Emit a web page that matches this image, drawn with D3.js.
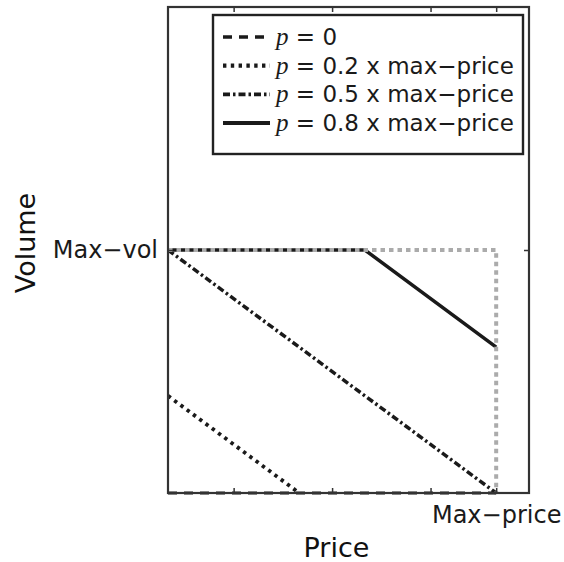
<!DOCTYPE html>
<html>
<head>
<meta charset="utf-8">
<script src="https://cdn.jsdelivr.net/npm/d3@7"></script>
<style>
  html, body { margin: 0; padding: 0; background: #fff; }
  svg { display: block; }
</style>
</head>
<body>
<svg id="chart" width="564" height="562"></svg>
<script>
// Price / volume response curves for several reserve prices p
const seriesNames = ["p = 0", "p = 0.2 x max−price", "p = 0.5 x max−price", "p = 0.8 x max−price"];
const pValues = ["0", "0.2 x max−price", "0.5 x max−price", "0.8 x max−price"];

// Each series as [price, volume] pairs (price and volume normalised to their max)
const curveP0  = [[0, 0], [1, 0]];
const curveP02 = [[0, 0.4], [0.4, 0]];
const curveP05 = [[0, 1], [1, 0]];
const curveP08 = [[0, 1], [0.6, 1], [1, 0.6]];
// Feasible region limit: max volume and max price
const boundary = [[0, 1], [1, 1], [1, 0]];

const xTickValues = [0.2, 0.5, 0.8, 1];
const xTickLabels = ["", "", "", "Max−price"];
const yTickValues = [1];
const yTickLabels = ["Max−vol"];

const svg = d3.select("#chart");
const plotLeft = 168, plotRight = 529, plotTop = 7, plotBottom = 493;

const x = d3.scaleLinear().domain([0, 1.1]).range([plotLeft, plotRight]);
const y = d3.scaleLinear().domain([0, 2]).range([plotBottom, plotTop]);

const line = d3.line().x(d => x(d[0])).y(d => y(d[1]));

const styles = {
  p0:  { color: "#1a1a1a", width: 3, dash: "9,7", cap: "butt" },
  p02: { color: "#1a1a1a", width: 3.8, dash: "3.4,4.4", cap: "butt" },
  p05: { color: "#1a1a1a", width: 3.5, dash: "7,3,2.5,3", cap: "butt" },
  p08: { color: "#1a1a1a", width: 3.5, dash: null, cap: "butt" }
};

function drawCurve(data, st) {
  const p = svg.append("path")
    .datum(data)
    .attr("d", line)
    .attr("fill", "none")
    .attr("stroke", st.color)
    .attr("stroke-width", st.width)
    .attr("stroke-linecap", st.cap);
  if (st.dash) p.attr("stroke-dasharray", st.dash);
  return p;
}

// Curves
drawCurve(curveP08, styles.p08);
drawCurve(curveP05, styles.p05);
drawCurve(curveP02, styles.p02);

// Boundary drawn in light grey dots over the curves
svg.append("path")
  .datum(boundary)
  .attr("d", line)
  .attr("fill", "none")
  .attr("stroke", "#ababab")
  .attr("stroke-width", 4)
  .attr("stroke-dasharray", "4.5,4");

drawCurve(curveP0, styles.p0);

// Axes: ticks point inward, labels only at the maxima
const axisFont = "'DejaVu Sans', sans-serif";

const gx = svg.append("g").attr("transform", `translate(0,${plotBottom})`)
  .call(d3.axisBottom(x).tickValues(xTickValues)
    .tickFormat((d, i) => xTickLabels[i])
    .tickSizeInner(-5).tickSizeOuter(0).tickPadding(13));
const gxTop = svg.append("g").attr("transform", `translate(0,${plotTop})`)
  .call(d3.axisTop(x).tickValues(xTickValues).tickFormat("")
    .tickSizeInner(-5).tickSizeOuter(0));
const gy = svg.append("g").attr("transform", `translate(${plotLeft},0)`)
  .call(d3.axisLeft(y).tickValues(yTickValues)
    .tickFormat((d, i) => yTickLabels[i])
    .tickSizeInner(-5).tickSizeOuter(0).tickPadding(10));
const gyRight = svg.append("g").attr("transform", `translate(${plotRight},0)`)
  .call(d3.axisRight(y).tickValues(yTickValues).tickFormat("")
    .tickSizeInner(-5).tickSizeOuter(0));

[gx, gxTop, gy, gyRight].forEach(g => {
  g.select(".domain").remove();
  g.selectAll(".tick line").attr("stroke", "#333").attr("stroke-width", 1.5);
  g.selectAll(".tick text")
    .attr("font-family", axisFont)
    .attr("font-size", 24)
    .attr("fill", "#1a1a1a");
});

// Frame
svg.append("rect")
  .attr("x", plotLeft).attr("y", plotTop)
  .attr("width", plotRight - plotLeft).attr("height", plotBottom - plotTop)
  .attr("fill", "none").attr("stroke", "#333").attr("stroke-width", 2.2);

// Axis titles
svg.append("text")
  .attr("x", (plotLeft + plotRight) / 2 - 12).attr("y", 557)
  .attr("text-anchor", "middle")
  .attr("font-family", axisFont).attr("font-size", 27).attr("fill", "#111")
  .text("Price");
svg.append("text")
  .attr("transform", `translate(35,243) rotate(-90)`)
  .attr("text-anchor", "middle")
  .attr("font-family", axisFont).attr("font-size", 27).attr("fill", "#111")
  .text("Volume");

// Legend
const legend = svg.append("g");
legend.append("rect")
  .attr("x", 213).attr("y", 15).attr("width", 310).attr("height", 139)
  .attr("fill", "#fff").attr("stroke", "#222").attr("stroke-width", 2.4);

const legendItems = [
  { style: styles.p0,  text: pValues[0] },
  { style: styles.p02, text: pValues[1] },
  { style: styles.p05, text: pValues[2] },
  { style: styles.p08, text: pValues[3] }
];
const rowY = d3.scalePoint().domain(d3.range(legendItems.length)).range([37, 123]);

legendItems.forEach((item, i) => {
  const cy = rowY(i);
  const st = item.style;
  const ln = legend.append("line")
    .attr("x1", 223).attr("x2", 270).attr("y1", cy).attr("y2", cy)
    .attr("stroke", st.color).attr("stroke-width", st.width + 0.4);
  if (st.dash) ln.attr("stroke-dasharray", st.dash);
  const t = legend.append("text")
    .attr("x", 276).attr("y", cy + 8)
    .attr("font-family", axisFont).attr("font-size", 23).attr("fill", "#1a1a1a");
  t.append("tspan")
    .attr("font-family", "'Liberation Serif', serif")
    .attr("font-style", "italic").attr("font-size", 25)
    .text("p");
  t.append("tspan").text(" = " + item.text);
});
</script>
</body>
</html>
